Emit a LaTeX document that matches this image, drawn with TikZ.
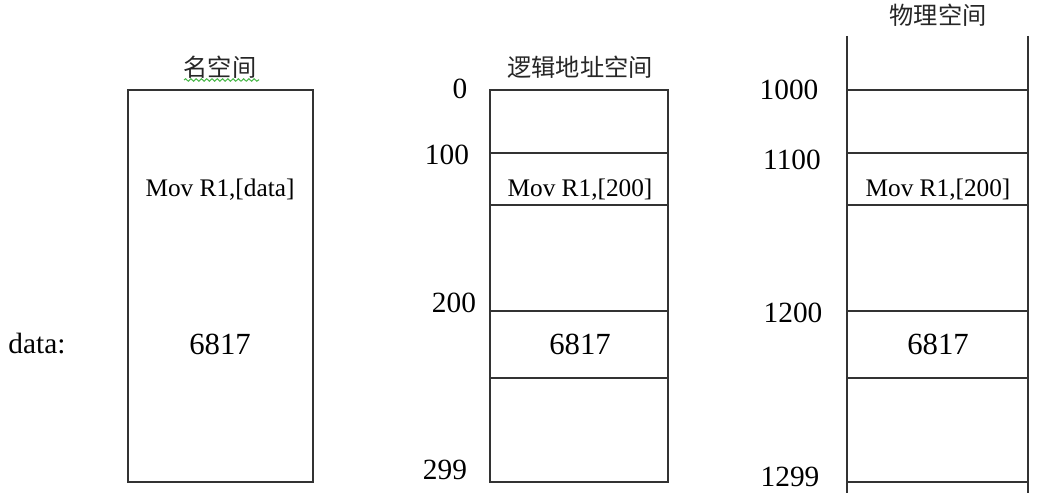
\documentclass[tikz,border=0pt]{standalone}
\usepackage{fontspec}
\setmainfont{Liberation Serif}
\newfontfamily\cjk{Noto Sans CJK SC}
\usetikzlibrary{positioning}
\usetikzlibrary{decorations.pathmorphing}

\begin{document}
\begin{tikzpicture}[x=0.02cm,y=-0.02cm,
		wall/.style={draw=black!80,line width=0.85pt},
		title/.style={font=\cjk\fontsize{13.8}{16}\selectfont,text=black!85},
		instr/.style={font=\fontsize{14.4}{16}\selectfont},
		val/.style={font=\fontsize{17.5}{20}\selectfont},
		addr/.style={font=\fontsize{16.7}{19}\selectfont}]
		\useasboundingbox (0,0) rectangle (1049,502);
		% name space
		\draw [wall] (128,90) rectangle (313,482);
		\node [title] (n) at (220,67) {名空间};
		\draw [green!60!black!70,line width=0.6pt,decorate,decoration={snake,amplitude=0.7pt,segment length=3pt}] (184,80)--(259,80);
		\node [instr] (n1) at (220,190) {Mov R1,[data]};
		\node [val] (n2) at (220,344) {6817};
		\node [addr] (d) at (37,344) {data:};
		% logical address space
		\draw [wall] (490,90) rectangle (668,482);
		\foreach \y in {153,205,311,378}
			\draw [wall] (490,\y)--(668,\y);
		\node [title] (l) at (580,67) {逻辑地址空间};
		\node [instr] (l1) at (580,190) {Mov R1,[200]};
		\node [val] (l2) at (580,344) {6817};
		\node [addr] (a0) at (460,89) {0};
		\node [addr] (a1) at (447,155) {100};
		\node [addr] (a2) at (454,303) {200};
		\node [addr] (a3) at (445,470) {299};
		% physical space
		\draw [wall] (847,36)--(847,493);
		\draw [wall] (1028,36)--(1028,493);
		\foreach \y in {90,153,205,311,378,482}
			\draw [wall] (847,\y)--(1028,\y);
		\node [title] (p) at (938,15) {物理空间};
		\node [instr] (p1) at (938,190) {Mov R1,[200]};
		\node [val] (p2) at (938,344) {6817};
		\node [addr] (b0) at (789,90) {1000};
		\node [addr] (b1) at (792,160) {1100};
		\node [addr] (b2) at (793,313) {1200};
		\node [addr] (b3) at (790,477) {1299};
\end{tikzpicture}
\end{document}
